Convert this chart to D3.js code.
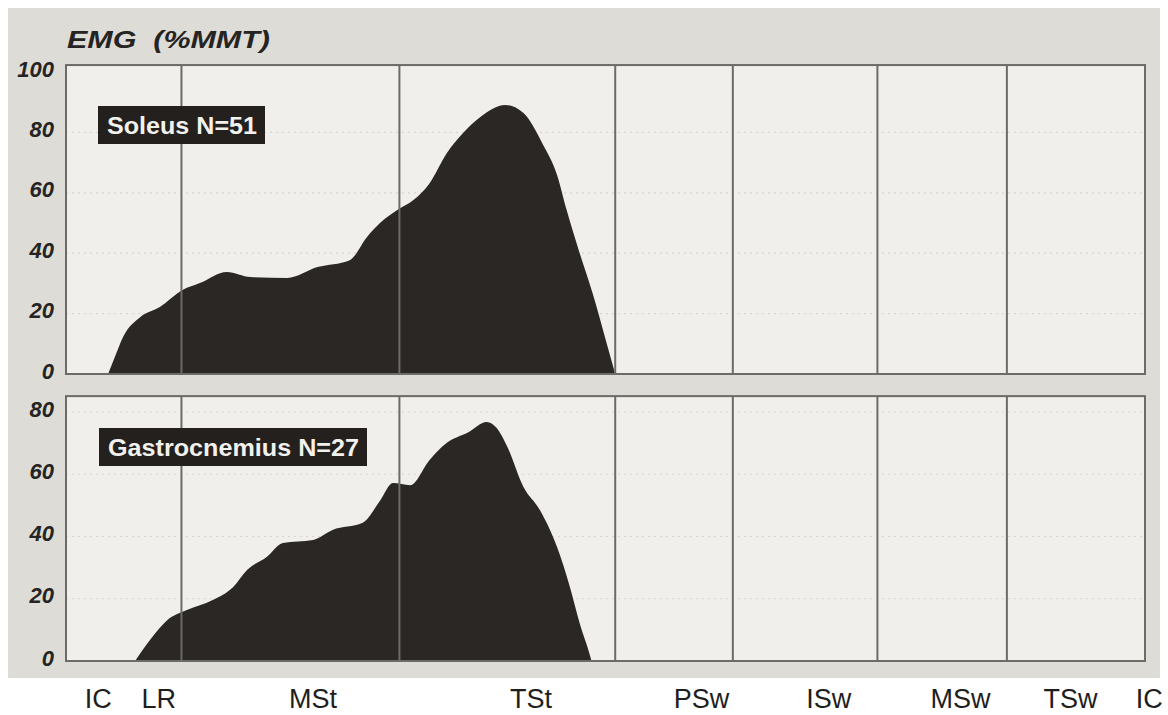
<!DOCTYPE html>
<html>
<head>
<meta charset="utf-8">
<script src="https://cdn.jsdelivr.net/npm/d3@7"></script>
<style>
  html, body { margin: 0; padding: 0; background: #ffffff; }
  svg { display: block; }
</style>
</head>
<body>
<svg id="chart" width="1168" height="715"></svg>
<script>
// Gait cycle position (%) of each sample and EMG amplitude (% of manual muscle test)
const soleusPct = [3.9, 4.6, 5.3, 6.9, 8.7, 10.8, 12.4, 14.9, 17.1, 20.5, 23.3, 26.3, 27.9, 29.1, 30.7, 32.2, 33.7, 35.3, 36.8, 38.4, 40.7, 42.4, 44.2, 45.5, 46.4, 47.6, 48.8, 50.1, 50.9];
const soleusEmg = [0, 6.3, 12.3, 18.9, 22.2, 27.8, 30.1, 33.8, 32.1, 31.8, 35.4, 37.7, 45.4, 50, 54.3, 57.6, 63.2, 73.2, 79.8, 85.1, 89.1, 86.4, 76.0, 66.0, 54.3, 40.1, 26.8, 10.3, 0];

const gastroPct = [6.4, 7.8, 9.4, 11.2, 13.6, 15.5, 16.8, 18.6, 20.1, 22.9, 24.7, 27.5, 29.1, 30.3, 31.9, 33.7, 35.3, 37.2, 39.0, 39.9, 40.9, 42.4, 43.9, 45.5, 46.7, 47.6, 48.6, 48.7];
const gastroEmg = [0, 6.8, 13.2, 16.4, 19.6, 23.8, 29.3, 33.4, 37.9, 38.9, 42.1, 44.4, 51.5, 57.2, 56.5, 64.6, 70.1, 73.3, 76.8, 74.9, 68.8, 55.9, 48.6, 36.7, 23.8, 12.2, 1.3, 0];

// Phase boundaries drawn as vertical lines (% gait cycle)
const phaseLines = [10.7, 30.9, 50.9, 61.8, 75.2, 87.2];
// Phase labels under the chart and their positions (% gait cycle)
const phaseLabels = ["IC", "LR", "MSt", "TSt", "PSw", "ISw", "MSw", "TSw", "IC"];
const phaseLabelPos = [3.0, 8.6, 22.9, 43.1, 58.9, 70.7, 82.9, 93.1, 100.4];

const soleusTicks = [0, 20, 40, 60, 80, 100];
const gastroTicks = [0, 20, 40, 60, 80];
const gridLevels = [20, 40, 60, 80];

const titleText = "EMG  (%MMT)";
const soleusLabel = "Soleus N=51";
const gastroLabel = "Gastrocnemius N=27";

const svg = d3.select("#chart");
const fillColor = "#2b2724";
const lineColor = "#6b6b67";

// paper background
svg.append("rect").attr("x", 8).attr("y", 8).attr("width", 1152).attr("height", 670)
  .attr("fill", "#dddcd7");

const x = d3.scaleLinear().domain([0, 100]).range([66, 1145]);

const panels = [
  { pct: soleusPct, emg: soleusEmg, ticks: soleusTicks, top: 102.3,
    y: d3.scaleLinear().domain([0, 100]).range([374, 72]),
    label: soleusLabel, labelX: 98, labelY: 106, labelW: 167 },
  { pct: gastroPct, emg: gastroEmg, ticks: gastroTicks, top: 85.1,
    y: d3.scaleLinear().domain([0, 80]).range([661, 412]),
    label: gastroLabel, labelX: 99, labelY: 428, labelW: 268 }
];

panels.forEach(p => {
  const g = svg.append("g");
  const y = p.y;
  const y0 = y(0), y1 = y(p.top);

  // panel background
  g.append("rect").attr("x", x(0)).attr("y", y1).attr("width", x(100) - x(0)).attr("height", y0 - y1)
    .attr("fill", "#f0efeb");

  // faint dotted level lines
  g.selectAll("line.level").data(gridLevels).join("line")
    .attr("x1", x(0)).attr("x2", x(100))
    .attr("y1", d => y(d)).attr("y2", d => y(d))
    .attr("stroke", "#d6d5d0").attr("stroke-width", 1.2)
    .attr("stroke-dasharray", "2,4");

  // EMG envelope
  const pts = p.pct.map((v, i) => [v, p.emg[i]]);
  const area = d3.area()
    .x(d => x(d[0]))
    .y0(y0)
    .y1(d => y(d[1]))
    .curve(d3.curveMonotoneX);
  g.append("path").datum(pts).attr("d", area).attr("fill", fillColor);

  // phase boundary lines
  g.selectAll("line.phase").data(phaseLines).join("line")
    .attr("x1", d => x(d)).attr("x2", d => x(d))
    .attr("y1", y1).attr("y2", y0)
    .attr("stroke", lineColor).attr("stroke-width", 2);

  // panel frame
  g.append("rect").attr("x", x(0)).attr("y", y1).attr("width", x(100) - x(0)).attr("height", y0 - y1)
    .attr("fill", "none").attr("stroke", lineColor).attr("stroke-width", 2);

  // y tick labels
  g.selectAll("text.tick").data(p.ticks).join("text")
    .attr("x", 54).attr("y", d => y(d) - 3)
    .attr("text-anchor", "end").attr("dominant-baseline", "central")
    .attr("font-family", "'Liberation Sans', Arial, sans-serif")
    .attr("font-weight", "bold").attr("font-style", "italic")
    .attr("font-size", 22).attr("fill", "#262422")
    .text(d => d);

  // muscle label box
  g.append("rect").attr("x", p.labelX).attr("y", p.labelY).attr("width", p.labelW).attr("height", 38)
    .attr("fill", "#23201e");
  g.append("text").attr("x", p.labelX + 9).attr("y", p.labelY + 19)
    .attr("dominant-baseline", "central")
    .attr("font-family", "'Liberation Sans', Arial, sans-serif")
    .attr("font-weight", "bold").attr("font-size", 24).attr("fill", "#f2f1ee")
    .attr("textLength", p.labelW - 17).attr("lengthAdjust", "spacingAndGlyphs")
    .text(p.label);
});

// title
svg.append("text").attr("x", 67).attr("y", 48)
  .attr("font-family", "'Liberation Sans', Arial, sans-serif")
  .attr("font-weight", "bold").attr("font-style", "italic")
  .attr("font-size", 24).attr("fill", "#262422")
  .attr("xml:space", "preserve").style("white-space", "pre")
  .attr("textLength", 203).attr("lengthAdjust", "spacingAndGlyphs")
  .text(titleText);

// gait phase labels
svg.selectAll("text.phaseLabel").data(phaseLabels).join("text")
  .attr("x", (d, i) => x(phaseLabelPos[i])).attr("y", 708)
  .attr("text-anchor", "middle")
  .attr("font-family", "'Liberation Sans', Arial, sans-serif")
  .attr("font-size", 27).attr("fill", "#1e1e1e")
  .text(d => d);
</script>
</body>
</html>
